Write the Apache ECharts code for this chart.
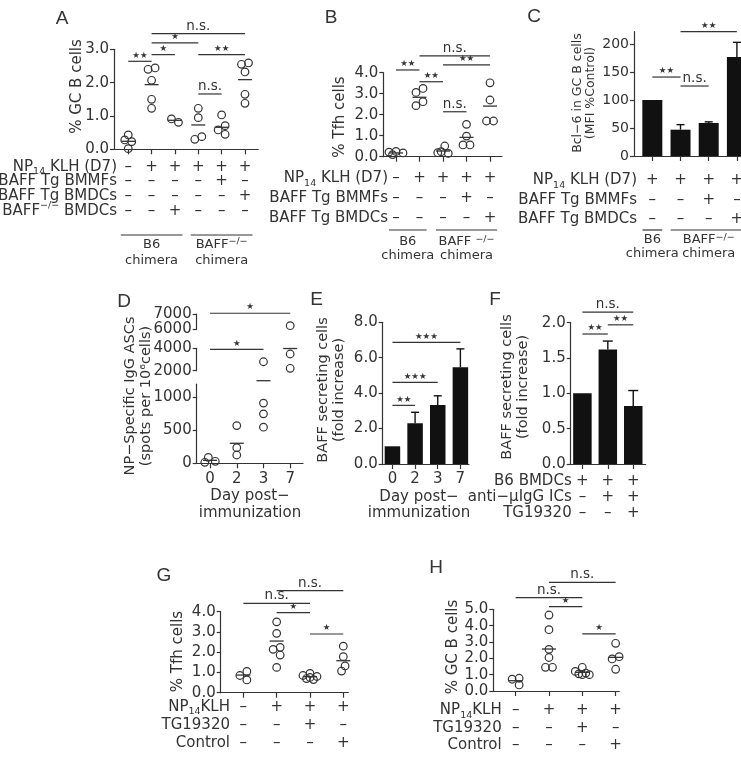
<!DOCTYPE html>
<html>
<head>
<meta charset="utf-8">
<script src="https://cdn.jsdelivr.net/npm/echarts@6/dist/echarts.min.js"></script>
<style>
  html, body { margin: 0; background: #fff; }
  #chart { width: 741px; height: 771px; }
</style>
</head>
<body>
<div id="chart"></div>
<script>
// ---- data ----
// A: % GC B cells
const aDots = [[0.43, 0.28, 0.23, 0.02], [2.44, 2.4, 2.07, 1.5, 1.23], [0.81, 0.91], [1.23, 0.95, 0.38, 0.3], [1.03, 0.71, 0.58, 0.45], [2.59, 2.55, 2.32, 1.65, 1.38]];
const aMeans = [0.24, 1.94, 0.87, 0.73, 0.66, 2.09];
const aSig = [[0, 1, 2.64, '**'], [1, 2, 2.84, '*'], [1, 3, 3.19, '*'], [3, 5, 2.84, '**'], [3, 4, 1.66, 'n.s.'], [1, 5, 3.47, 'n.s.']];
const aRows = ['NP{sub|14} KLH (D7)', 'BAFF Tg BMMFs', 'BAFF Tg BMDCs', 'BAFF{sup|−/−} BMDCs'];
const aSigns = [['–', '+', '+', '+', '+', '+'], ['–', '–', '–', '–', '+', '–'], ['–', '–', '–', '–', '–', '+'], ['–', '–', '+', '–', '–', '–']];
const aGroups = [['B6\nchimera', 0, 2], ['BAFF{sup|−/−}\nchimera', 3, 5]];

// B: % Tfh cells
const bDots = [[0.25, 0.22, 0.18, 0.1], [3.25, 3.06, 2.62, 2.43], [0.51, 0.24, 0.16, 0.19], [1.54, 0.98, 0.56, 0.56], [3.52, 2.7, 1.7, 1.7]];
const bMeans = [0.18, 2.83, 0.27, 0.92, 2.41];
const bSig = [[0, 1, 4.13, '**'], [1, 2, 3.57, '**'], [2, 4, 4.37, '**'], [2, 3, 2.14, 'n.s.'], [1, 4, 4.8, 'n.s.']];
const bRows = ['NP{sub|14} KLH (D7)', 'BAFF Tg BMMFs', 'BAFF Tg BMDCs'];
const bSigns = [['–', '+', '+', '+', '+'], ['–', '–', '–', '+', '–'], ['–', '–', '–', '–', '+']];
const bGroups = [['B6\nchimera', 0, 1], ['BAFF {sup|−/−}\nchimera', 2, 4]];

// C: Bcl-6 in GC B cells
const cVals = [100, 47, 59, 177];
const cErr = [0, 9, 2, 26];
const cSig = [[0, 1, 141, '**'], [1, 2, 125, 'n.s.'], [1, 3, 222, '**']];
const cRows = ['NP{sub|14} KLH (D7)', 'BAFF Tg BMMFs', 'BAFF Tg BMDCs'];
const cSigns = [['+', '+', '+', '+'], ['–', '–', '+', '–'], ['–', '–', '–', '+']];
const cGroups = [['B6\nchimera', 0, 0], ['BAFF{sup|−/−}\nchimera', 1, 3]];

// D: NP-specific IgG ASCs (broken axis)
const dDays = ['0', '2', '3', '7'];
const dDots = [[90, 15, 30], [572, 126, 237], [2800, 913, 750, 548], [6235, 3490, 2214]];
const dMeans = [45, 304, 1253, 3980];
const dSigMid = [[0, 2, 3900, '*']];
const dSigTop = [[0, 3, 7050, '*']];

// E: BAFF secreting cells over days
const eDays = ['0', '2', '3', '7'];
const eVals = [1.0, 2.3, 3.33, 5.46];
const eErr = [0, 0.62, 0.52, 1.04];
const eSig = [[0, 1, 3.31, '**'], [0, 2, 4.61, '***'], [0, 3, 6.87, '***']];

// F: BAFF secreting cells, immune complexes
const fVals = [1.0, 1.62, 0.82];
const fErr = [0, 0.12, 0.22];
const fSig = [[0, 1, 1.84, '**'], [1, 2, 1.97, '**'], [0, 2, 2.15, 'n.s.']];
const fRows = ['B6 BMDCs', 'anti−μIgG ICs', 'TG19320'];
const fSigns = [['+', '+', '+'], ['–', '+', '+'], ['–', '–', '+']];

// G: % Tfh cells
const gDots = [[1.05, 0.85, 0.63], [3.5, 2.93, 2.24, 2.14, 1.86, 1.25], [0.95, 0.85, 0.8, 0.75, 0.7, 0.65], [2.3, 1.78, 1.32, 1.07]];
const gMeans = [0.87, 2.55, 0.79, 1.58];
const gSig = [[0, 2, 4.41, 'n.s.'], [1, 3, 5.04, 'n.s.'], [1, 2, 3.95, '*'], [2, 3, 2.9, '*']];

// H: % GC B cells
const hDots = [[0.78, 0.72, 0.37], [4.65, 3.75, 2.55, 2.05, 1.45, 1.45], [1.45, 1.2, 1.1, 1.05, 1.0, 1.0], [2.92, 2.1, 1.96, 1.33]];
const hMeans = [0.63, 2.57, 1.14, 2.06];
const hSig = [[0, 2, 5.71, 'n.s.'], [1, 3, 6.65, 'n.s.'], [1, 2, 5.16, '*'], [2, 3, 3.49, '*']];

const ghRows = ['NP{sub|14}KLH', 'TG19320', 'Control'];
const ghSigns = [['–', '+', '+', '+'], ['–', '–', '+', '–'], ['–', '–', '–', '+']];

// ---- styling ----
const FONT = 'DejaVu Sans';
const INK = '#333';
const FS = 15;
const RICH = {
  sup: { fontSize: 9.5, fontFamily: FONT, fill: INK, color: INK, verticalAlign: 'top', lineHeight: 10 },
  sub: { fontSize: 9.5, fontFamily: FONT, fill: INK, color: INK, verticalAlign: 'bottom', lineHeight: 10 }
};

const grid = [], xAxis = [], yAxis = [], series = [], graphic = [];

function addPanel(p) {
  const i = grid.length;
  p.idx = i;
  grid.push({ left: p.left, top: p.top, width: p.width, height: p.height, outerBoundsMode: 'none', containLabel: false });
  xAxis.push({
    type: 'value', gridIndex: i, min: p.xMin, max: p.xMax, show: p.xShow !== false,
    axisLine: { show: true, onZero: false, lineStyle: { color: INK, width: 1.2 } },
    axisTick: { show: true, length: 5, customValues: p.xTicks, lineStyle: { color: INK, width: 1.2 } },
    axisLabel: {
      show: !!p.xFmt, customValues: p.xTicks, formatter: p.xFmt, color: INK,
      fontFamily: FONT, fontSize: FS, lineHeight: p.lh || 16, margin: p.xMargin || 6
    },
    splitLine: { show: false }
  });
  yAxis.push({
    type: 'value', gridIndex: i, min: p.yMin, max: p.yMax,
    axisLine: { show: true, onZero: false, lineStyle: { color: INK, width: 1.2 } },
    axisTick: { show: true, length: 4, customValues: p.yTicks, lineStyle: { color: INK, width: 1.2 } },
    axisLabel: { customValues: p.yTicks, formatter: p.yFmt, color: INK, fontFamily: FONT, fontSize: p.yFs || FS, margin: 5 },
    splitLine: { show: false }
  });
  return p;
}

// spread overlapping dots sideways (pixel offsets), then centre each cluster
function swarm(groups, p) {
  const ppu = p.height / (p.yMax - p.yMin);
  const D = 6, H = 3.5;
  const cands = [0, -H, H, -2 * H, 2 * H];
  const out = [];
  groups.forEach((vals, gi) => {
    const pts = [];
    vals.forEach(v => {
      const y = v * ppu;
      const near = c => pts.length ? Math.min(...pts.map(q => Math.hypot(q.dx - c, q.y - y))) : Infinity;
      let dx = cands.find(c => near(c) >= D);
      if (dx === undefined) dx = cands.reduce((best, c) => near(c) > near(best) ? c : best, 0);
      pts.push({ v, y, dx });
    });
    const sorted = pts.slice().sort((a, b) => a.y - b.y);
    let cl = [];
    const flush = () => {
      if (!cl.length) return;
      const lo = Math.min(...cl.map(q => q.dx)), hi = Math.max(...cl.map(q => q.dx));
      cl.forEach(q => { q.dx -= (lo + hi) / 2; });
      cl = [];
    };
    sorted.forEach(q => {
      if (cl.length && q.y - cl[cl.length - 1].y >= D) flush();
      cl.push(q);
    });
    flush();
    pts.forEach(q => out.push([gi, q.v, q.dx]));
  });
  return out;
}

function base(p, extra) {
  return Object.assign({ type: 'custom', xAxisIndex: p.idx, yAxisIndex: p.idx, clip: false, silent: true, animation: false }, extra);
}

function dotSeries(p, groups) {
  return base(p, {
    z: 4, data: swarm(groups, p), encode: { x: 0, y: 1 },
    renderItem: (params, api) => {
      const c = api.coord([api.value(0), api.value(1)]);
      return { type: 'circle', shape: { cx: c[0] + api.value(2), cy: c[1], r: 3.8 }, style: { fill: 'none', stroke: INK, lineWidth: 1.2 } };
    }
  });
}

function meanSeries(p, means) {
  return base(p, {
    z: 5, data: means.map((m, k) => [k, m]).filter(d => d[1] != null), encode: { x: 0, y: 1 },
    renderItem: (params, api) => {
      const c = api.coord([api.value(0), api.value(1)]);
      return { type: 'line', shape: { x1: c[0] - 7, y1: c[1], x2: c[0] + 7, y2: c[1] }, style: { stroke: INK, lineWidth: 1.3 } };
    }
  });
}

function sigSeries(p, sig) {
  return base(p, {
    z: 5, data: sig.map(s => [s[0], s[1], s[2]]), encode: { x: [0, 1], y: 2 },
    renderItem: (params, api) => {
      const a = api.coord([api.value(0), api.value(2)]);
      const b = api.coord([api.value(1), api.value(2)]);
      const lab = sig[params.dataIndex][3];
      const star = lab[0] === '*';
      return {
        type: 'group', children: [
          { type: 'line', shape: { x1: a[0], y1: a[1], x2: b[0], y2: b[1] }, style: { stroke: INK, lineWidth: 1.2 } },
          {
            type: 'text', x: (a[0] + b[0]) / 2, y: a[1] - (star ? 1.5 : 0.5),
            style: {
              text: star ? lab.replace(/\*/g, '★') : lab, fill: INK, fontFamily: FONT,
              fontSize: star ? 8.5 : 13.5, align: 'center', verticalAlign: 'bottom'
            }
          }
        ]
      };
    }
  });
}

function barSeries(p, vals, w) {
  return {
    type: 'bar', xAxisIndex: p.idx, yAxisIndex: p.idx, barWidth: w, silent: true, animation: false,
    data: vals.map((v, k) => [k, v]), itemStyle: { color: '#111' }
  };
}

function errSeries(p, vals, errs, cap) {
  return base(p, {
    z: 3, data: vals.map((v, k) => [k, v, errs[k]]).filter(d => d[2] > 0), encode: { x: 0, y: 1 },
    renderItem: (params, api) => {
      const lo = api.coord([api.value(0), api.value(1)]);
      const hi = api.coord([api.value(0), api.value(1) + api.value(2)]);
      return {
        type: 'group', children: [
          { type: 'line', shape: { x1: lo[0], y1: lo[1], x2: hi[0], y2: hi[1] }, style: { stroke: '#111', lineWidth: 1.4 } },
          { type: 'line', shape: { x1: hi[0] - cap, y1: hi[1], x2: hi[0] + cap, y2: hi[1] }, style: { stroke: '#111', lineWidth: 1.4 } }
        ]
      };
    }
  });
}

function groupSeries(p, groups, g) {
  return base(p, {
    z: 5, data: groups.map(x => [x[1], x[2], p.yMin]), encode: { x: [0, 1], y: 2 },
    renderItem: (params, api) => {
      const a = api.coord([api.value(0) - g.pad, p.yMin]);
      const b = api.coord([api.value(1) + g.pad, p.yMin]);
      return {
        type: 'group', children: [
          { type: 'line', shape: { x1: a[0], y1: a[1] + g.line, x2: b[0], y2: a[1] + g.line }, style: { stroke: INK, lineWidth: 1.2 } },
          {
            type: 'text', x: (a[0] + b[0]) / 2, y: a[1] + g.text,
            style: {
              text: groups[params.dataIndex][0], rich: RICH, fill: INK, fontFamily: FONT, fontSize: 13,
              lineHeight: g.lh, align: 'center', verticalAlign: 'middle'
            }
          }
        ]
      };
    }
  });
}

function text(x, y, str, st, rot) {
  return {
    type: 'text', x, y, rotation: rot || 0, silent: true,
    style: Object.assign({ text: str, rich: RICH, fill: INK, fontFamily: FONT, fontSize: FS, align: 'center', verticalAlign: 'middle' }, st)
  };
}

function rowLabels(p, rows) {
  rows.forEach((r, i) => {
    const y = p.top + p.height + p.xMargin + p.lh * (i + 0.5);
    graphic.push(text(p.rowRight, y, r, { align: 'right', lineHeight: 20 }));
  });
}

const signFmt = rows => v => rows.map(r => r[Math.round(v)]).join('\n');
const f1 = v => v.toFixed(1);
const f0 = v => String(Math.round(v));

// ---- panels ----
const pA = addPanel({ left: 114, top: 49.3, width: 144.3, height: 100, xMin: -0.61, xMax: 5.57, xTicks: [0, 1, 2, 3, 4, 5],
  xFmt: signFmt(aSigns), lh: 14.7, xMargin: 10, rowRight: 117, yMin: 0, yMax: 3, yTicks: [0, 1, 2, 3], yFmt: f1 });
const pB = addPanel({ left: 383.3, top: 72.7, width: 118.7, height: 84, xMin: -0.54, xMax: 4.51, xTicks: [0, 1, 2, 3, 4],
  xFmt: signFmt(bSigns), lh: 20, xMargin: 11.6, rowRight: 388, yMin: 0, yMax: 4, yTicks: [0, 1, 2, 3, 4], yFmt: f1 });
const pC = addPanel({ left: 634, top: 31.7, width: 117, height: 124.3, xMin: -0.65, xMax: 3.5, xTicks: [0, 1, 2, 3],
  xFmt: signFmt(cSigns), lh: 19.7, xMargin: 14.2, rowRight: 637, yMin: 0, yMax: 222, yTicks: [0, 50, 100, 150, 200], yFmt: f0, yFs: 14 });
const pDlow = addPanel({ left: 196.7, top: 384.2, width: 106.3, height: 79.1, xMin: -0.5, xMax: 3.48, xTicks: [0, 1, 2, 3],
  xFmt: v => dDays[Math.round(v)], lh: 16, xMargin: 7.5, yMin: 0, yMax: 1200, yTicks: [0, 500, 1000], yFmt: f0 });
const pDmid = addPanel({ left: 196.7, top: 348.3, width: 106.3, height: 22.4, xMin: -0.5, xMax: 3.48, xShow: false, xTicks: [],
  yMin: 2000, yMax: 4000, yTicks: [2000, 4000], yFmt: f0 });
const pDtop = addPanel({ left: 196.7, top: 314, width: 106.3, height: 15.3, xMin: -0.5, xMax: 3.48, xShow: false, xTicks: [],
  yMin: 6000, yMax: 7000, yTicks: [6000, 7000], yFmt: f0 });
const pE = addPanel({ left: 382.7, top: 322.3, width: 86.3, height: 141.7, xMin: -0.43, xMax: 3.38, xTicks: [0, 1, 2, 3],
  xFmt: v => eDays[Math.round(v)], lh: 16, xMargin: 7.5, yMin: 0, yMax: 8, yTicks: [0, 2, 4, 6, 8], yFmt: f1 });
const pF = addPanel({ left: 570.7, top: 322.7, width: 75, height: 141.3, xMin: -0.46, xMax: 2.49, xTicks: [0, 1, 2],
  xFmt: signFmt(fSigns), lh: 16, xMargin: 8.7, rowRight: 571.7, yMin: 0, yMax: 2, yTicks: [0, 0.5, 1, 1.5, 2], yFmt: f1 });
const pG = addPanel({ left: 220.7, top: 611.7, width: 127.6, height: 81, xMin: -0.68, xMax: 3.15, xTicks: [0, 1, 2, 3],
  xFmt: signFmt(ghSigns), lh: 18, xMargin: 5, rowRight: 230, yMin: 0, yMax: 4, yTicks: [0, 1, 2, 3, 4], yFmt: f1 });
const pH = addPanel({ left: 493.3, top: 609.3, width: 126, height: 81.7, xMin: -0.67, xMax: 3.11, xTicks: [0, 1, 2, 3],
  xFmt: signFmt(ghSigns), lh: 17.2, xMargin: 11, rowRight: 501.7, yMin: 0, yMax: 5, yTicks: [0, 1, 2, 3, 4, 5], yFmt: f1 });

// ---- series ----
series.push(dotSeries(pA, aDots), meanSeries(pA, aMeans), sigSeries(pA, aSig),
  groupSeries(pA, aGroups, { pad: 0.32, line: 85.7, text: 103.7, lh: 16 }));
series.push(dotSeries(pB, bDots), meanSeries(pB, bMeans), sigSeries(pB, bSig),
  groupSeries(pB, bGroups, { pad: 0.3, line: 73.3, text: 91.8, lh: 13.5 }));
series.push(barSeries(pC, cVals, 20), errSeries(pC, cVals, cErr, 4), sigSeries(pC, cSig),
  groupSeries(pC, cGroups, { pad: 0.35, line: 74, text: 91, lh: 14 }));

const inLow = v => v <= 1500, inMid = v => v > 1500 && v < 5000, inTop = v => v >= 5000;
series.push(dotSeries(pDlow, dDots.map(g => g.filter(inLow))), meanSeries(pDlow, dMeans.map(m => inLow(m) ? m : null)));
series.push(dotSeries(pDmid, dDots.map(g => g.filter(inMid))), meanSeries(pDmid, dMeans.map(m => inMid(m) ? m : null)), sigSeries(pDmid, dSigMid));
series.push(dotSeries(pDtop, dDots.map(g => g.filter(inTop))), meanSeries(pDtop, dMeans.map(m => inTop(m) ? m : null)), sigSeries(pDtop, dSigTop));

series.push(barSeries(pE, eVals, 15.5), errSeries(pE, eVals, eErr, 4), sigSeries(pE, eSig));
series.push(barSeries(pF, fVals, 18.5), errSeries(pF, fVals, fErr, 5), sigSeries(pF, fSig));
series.push(dotSeries(pG, gDots), meanSeries(pG, gMeans), sigSeries(pG, gSig));
series.push(dotSeries(pH, hDots), meanSeries(pH, hMeans), sigSeries(pH, hSig));

// ---- text: panel letters, row labels, axis names ----
[['A', 62, 18.5], ['B', 331, 17.5], ['C', 534, 16.5], ['D', 124, 301.5], ['E', 316.7, 300], ['F', 495, 300], ['G', 164, 576], ['H', 436, 567.5]]
  .forEach(l => graphic.push(text(l[1], l[2], l[0], { fontSize: 19, fontFamily: 'Liberation Sans' })));

rowLabels(pA, aRows);
rowLabels(pB, bRows);
rowLabels(pC, cRows);
rowLabels(pF, fRows);
rowLabels(pG, ghRows);
rowLabels(pH, ghRows);

const R90 = Math.PI / 2;
graphic.push(
  text(77.5, 86.5, '% GC B cells', {}, R90),
  text(340, 117, '% Tfh cells', {}, R90),
  text(584, 93, 'Bcl−6 in GC B cells\n(MFI %Control)', { fontSize: 12.5, lineHeight: 13 }, R90),
  text(138.3, 396, 'NP−Specific IgG ASCs\n(spots per 10⁶cells)', { fontSize: 14.5, lineHeight: 16.5 }, R90),
  text(331, 390, 'BAFF secreting cells\n(fold increase)', { fontSize: 14.5, lineHeight: 16.5 }, R90),
  text(515, 387, 'BAFF secreting cells\n(fold increase)', { fontSize: 14.5, lineHeight: 16.5 }, R90),
  text(178, 651.5, '% Tfh cells', {}, R90),
  text(453, 647, '% GC B cells', {}, R90),
  text(250, 504.7, 'Day post−\nimmunization', { lineHeight: 16.5 }),
  text(419, 505, 'Day post−\nimmunization', { lineHeight: 16.5 })
);

const chart = echarts.init(document.getElementById('chart'), null, { renderer: 'canvas' });
chart.setOption({
  animation: false,
  backgroundColor: '#fff',
  textStyle: { fontFamily: FONT },
  grid, xAxis, yAxis, series, graphic
});
</script>
</body>
</html>
